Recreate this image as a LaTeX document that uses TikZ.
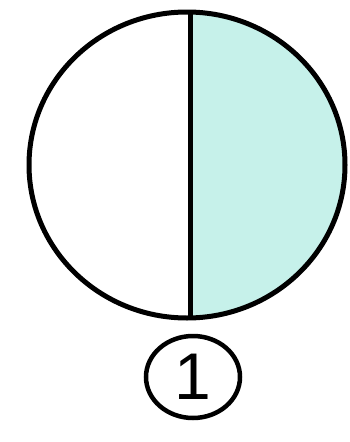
\documentclass[tikz,border=0pt]{standalone}
\usepackage{fontspec}
\usetikzlibrary{shapes.geometric}
\setsansfont{Liberation Sans}
\definecolor{halfcyan}{RGB}{198,241,234}
\begin{document}
\begin{tikzpicture}[x=1pt,y=-1pt, line width=5pt]
\useasboundingbox (0,0) rectangle (350,442);
% shaded right half
\begin{scope}
\clip (187,165) ellipse [x radius=158, y radius=153];
\fill[halfcyan] (190,0) rectangle (350,330);
\end{scope}
\draw (187,165) ellipse [x radius=158, y radius=153];
\coordinate (top) at (190,12);
\coordinate (bottom) at (190,318);
\draw (top) -- (bottom);
\node[draw, ellipse, line width=4.5pt, minimum width=94pt, minimum height=82pt, inner sep=0pt,
font=\sffamily\fontsize{66}{66}\selectfont] (num) at (193,377) {1};
\end{tikzpicture}
\end{document}
